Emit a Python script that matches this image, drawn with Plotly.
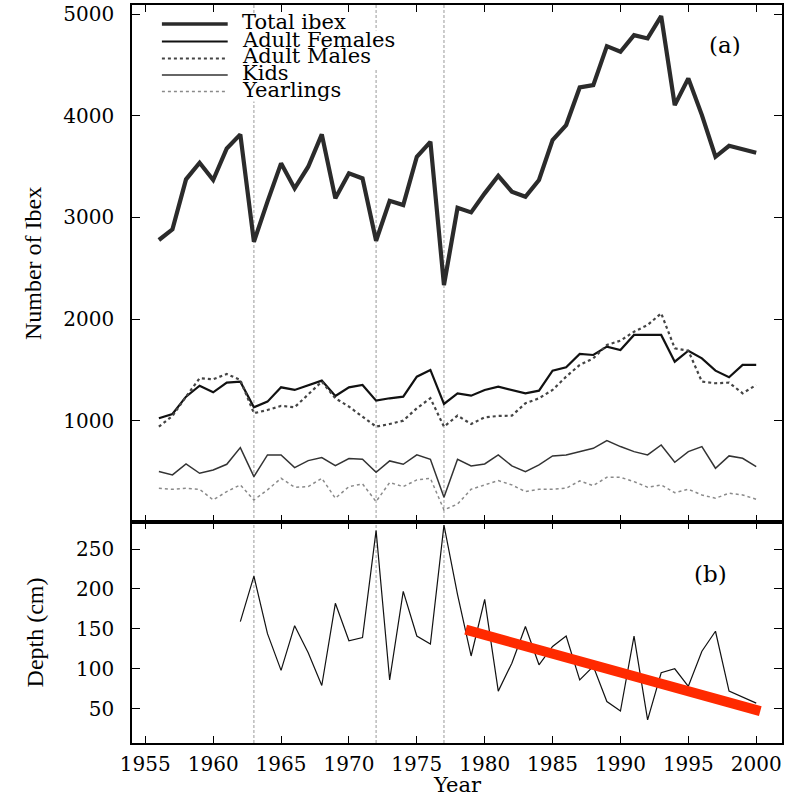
import plotly.graph_objects as go

# ---------------- data ----------------
years = list(range(1956, 2001))
total_ibex = [2778, 2883, 3375, 3538, 3368, 3679, 3817, 2761, 3155, 3532, 3286, 3499, 3817, 3188,
              3434, 3384, 2771, 3164, 3122, 3597, 3744, 2335,
              3095, 3050, 3237, 3410, 3253, 3204, 3368, 3761, 3909, 4279, 4302, 4685, 4630, 4794,
              4761, 4980, 4105, 4368, 4007, 3597, 3705, 3670, 3636]
adult_females = [1024, 1067, 1237, 1345, 1280, 1375, 1385, 1133, 1188, 1329, 1303, 1352, 1395, 1244,
                 1329, 1352, 1198, 1221, 1237, 1434, 1500, 1165,
                 1270, 1247, 1303, 1335, 1303, 1270, 1296, 1493, 1526, 1657, 1647, 1729, 1696, 1844,
                 1844, 1844, 1581, 1689, 1614, 1493, 1428, 1549, 1549]
adult_males = [942, 1047, 1237, 1418, 1408, 1460, 1401, 1074, 1106, 1146, 1133, 1254, 1385, 1221,
               1139, 1040, 942, 968, 1001, 1123, 1221, 942,
               1050, 968, 1034, 1047, 1050, 1172, 1221, 1303, 1434, 1549, 1614, 1745, 1788, 1876,
               1942, 2057, 1713, 1689, 1385, 1369, 1375, 1270, 1352]
kids = [500, 467, 575, 483, 516, 572, 736, 451, 664, 664, 539, 608, 638, 559, 628, 621, 493, 605,
        572, 664, 621, 247,
        621, 556, 575, 664, 556, 500, 565, 654, 664, 696, 729, 805, 746, 696, 664, 762, 592, 696,
        746, 533, 654, 631, 549]
yearlings = [336, 326, 336, 326, 221, 303, 369, 221, 320, 434, 346, 352, 434, 238, 352, 379, 205,
             392, 352, 418, 434, 123,
             180, 326, 369, 411, 369, 303, 326, 326, 336, 408, 362, 444, 444, 401, 346, 369, 293,
             326, 270, 238, 287, 270, 228]

depth_years = list(range(1962, 2001))
depth_cm = [159, 216, 144, 98, 154, 120, 79, 182, 135, 139, 273, 86, 197, 141, 131, 280,
            193, 116, 187, 72, 107, 153, 105, 128, 141, 86, 103, 59, 47, 141, 36, 95, 100, 78,
            122, 147, 72, 65, 57]

trend_years = [1978.6, 2000.3]
trend_depth = [149, 47]

event_years = [1963, 1972, 1977]
x_ticks = list(range(1955, 2001, 5))
ibex_ticks = [1000, 2000, 3000, 4000, 5000]
depth_ticks = [50, 100, 150, 200, 250]

legend_names = ["Total ibex", "Adult Females", "Adult Males", "Kids", "Yearlings"]

# ---------------- styles ----------------
W, H = 786, 798
ML, MR, MT, MB = 132, 2, 5, 55
PW, PH = W - ML - MR, H - MT - MB
SPLIT = 0.2996
X_RANGE = [1954.02, 2001.9]

styles = [
    dict(color="#2b2b2b", width=4.2, dash="solid"),
    dict(color="#111111", width=2.2, dash="solid"),
    dict(color="#444444", width=2.2, dash="dot"),
    dict(color="#333333", width=1.5, dash="solid"),
    dict(color="#8a8a8a", width=1.5, dash="dot"),
]
series = [total_ibex, adult_females, adult_males, kids, yearlings]

SERIF = "DejaVu Serif"
TIMES = "Liberation Serif, Times New Roman, serif"

fig = go.Figure()
for name, vals, st in zip(legend_names, series, styles):
    fig.add_trace(go.Scatter(x=years, y=vals, mode="lines", name=name, line=st,
                             xaxis="x", yaxis="y", showlegend=False))

fig.add_trace(go.Scatter(x=depth_years, y=depth_cm, mode="lines", name="Depth",
                         line=dict(color="#111111", width=1.2), xaxis="x2", yaxis="y2",
                         showlegend=False))
fig.add_trace(go.Scatter(x=trend_years, y=trend_depth, mode="lines", name="Trend",
                         line=dict(color="#ff2a00", width=10), xaxis="x2", yaxis="y2",
                         showlegend=False))


def px2paper_x(px):
    return (px - ML) / PW


def px2paper_y(py):
    return (H - MB - py) / PH


shapes = []
for yr in event_years:
    shapes.append(dict(type="line", xref="x", yref="paper", x0=yr, x1=yr, y0=0, y1=1,
                       line=dict(color="#9a9a9a", width=1, dash="3px,2px"), layer="below"))

# legend (manual, to reproduce the tight key of the original)
row_y = [22, 39.5, 56.5, 73, 89.5]
text_right = [358, 410, 383, 297, 353]
annotations = []
for i, (name, st) in enumerate(zip(legend_names, styles)):
    shapes.append(dict(type="rect", xref="paper", yref="paper",
                       x0=px2paper_x(150), x1=px2paper_x(text_right[i] + 2),
                       y0=px2paper_y(row_y[i] + 12), y1=px2paper_y(row_y[i] - 9),
                       fillcolor="white", line=dict(width=0), layer="below"))
for i, (name, st) in enumerate(zip(legend_names, styles)):
    yy = px2paper_y(row_y[i] + 2)
    shapes.append(dict(type="line", xref="paper", yref="paper",
                       x0=px2paper_x(162), x1=px2paper_x(228), y0=yy, y1=yy,
                       line=dict(color=st["color"], width=min(st["width"], 3.5), dash=st["dash"]),
                       layer="above"))
    annotations.append(dict(text=name, xref="paper", yref="paper", x=px2paper_x(240),
                            y=px2paper_y(row_y[i]), xanchor="left", yanchor="middle",
                            showarrow=False,
                            font=dict(family=SERIF, size=21, color="black")))

annotations.append(dict(text="(a)", xref="paper", yref="paper", x=px2paper_x(727),
                        y=px2paper_y(45), xanchor="center", yanchor="middle", showarrow=False,
                        font=dict(family=SERIF, size=23, color="black")))
annotations.append(dict(text="(b)", xref="paper", yref="paper", x=px2paper_x(712),
                        y=px2paper_y(574), xanchor="center", yanchor="middle", showarrow=False,
                        font=dict(family=SERIF, size=23, color="black")))
annotations.append(dict(text="Year", xref="paper", yref="paper", x=0.5,
                        y=px2paper_y(785), xanchor="center", yanchor="middle", showarrow=False,
                        font=dict(family=SERIF, size=21, color="black")))

axis_common = dict(showgrid=False, zeroline=False, showline=True, linecolor="black",
                   linewidth=1.5, ticks="inside", tickcolor="black", tickwidth=1.3,
                   mirror="ticks", tickfont=dict(family=SERIF, size=20, color="black"))

fig.update_layout(
    width=W, height=H,
    margin=dict(l=ML, r=MR, t=MT, b=MB),
    paper_bgcolor="white", plot_bgcolor="white",
    showlegend=False,
    xaxis=dict(axis_common, domain=[0, 1], anchor="y", range=X_RANGE,
               tickvals=x_ticks, showticklabels=False, ticklen=7),
    xaxis2=dict(axis_common, domain=[0, 1], anchor="y2", matches="x", range=X_RANGE,
                tickvals=x_ticks, ticklen=7, ticklabelstandoff=2,
                tickfont=dict(family=SERIF, size=20, color="black")),
    yaxis=dict(axis_common, domain=[SPLIT, 1], anchor="x", range=[5, 5090],
               tickvals=ibex_ticks, ticklen=8, ticklabelstandoff=12,
               title=dict(text="Number of Ibex", font=dict(family=TIMES, size=24, color="black"),
                          standoff=15)),
    yaxis2=dict(axis_common, domain=[0, SPLIT], anchor="x2", range=[7, 284],
                tickvals=depth_ticks, ticklen=8, ticklabelstandoff=12,
                title=dict(text="Depth (cm)", font=dict(family=TIMES, size=24, color="black"),
                           standoff=26)),
    shapes=shapes,
    annotations=annotations,
)

# remove the browser's default 8px body margin so the figure sits at the window origin
fig.write_html("out.html",
               config={"displayModeBar": False},
               post_script="document.body.style.margin='0';document.body.style.padding='0';")
